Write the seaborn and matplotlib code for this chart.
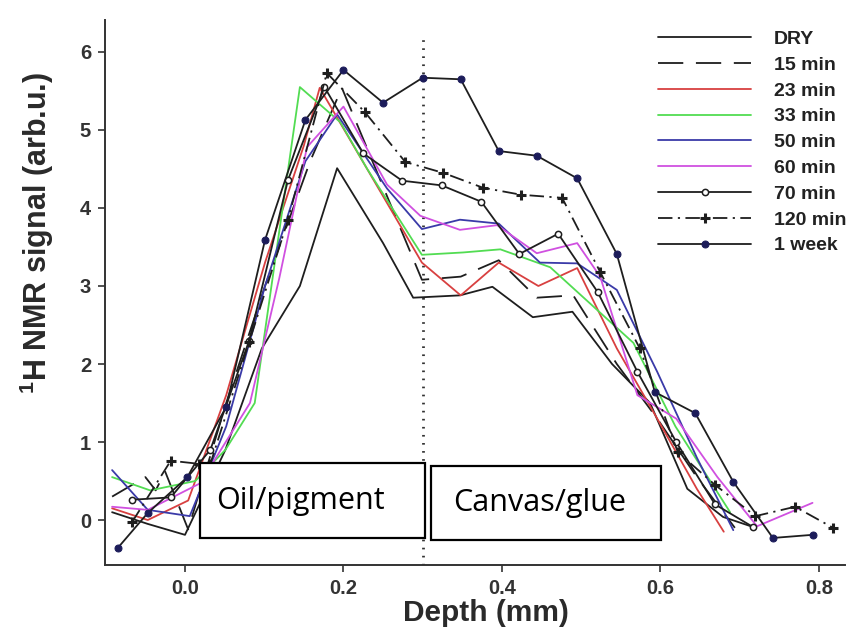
import matplotlib
matplotlib.use("Agg")
import matplotlib.pyplot as plt
import seaborn as sns
import numpy as np
import pandas as pd
from matplotlib.patches import Rectangle

# ---------------- data ----------------
dry_x = [-0.092, -0.047, 0.0, 0.051, 0.097, 0.145, 0.192, 0.25, 0.288, 0.347, 0.388,
         0.439, 0.489, 0.539, 0.587, 0.634, 0.679, 0.72]
dry_y = [0.1, -0.05, -0.19, 0.9, 2.2, 3.0, 4.51, 3.55, 2.85, 2.88, 2.99,
         2.6, 2.67, 2.0, 1.5, 0.4, 0.04, -0.1]

m15_x = [-0.092, -0.05, -0.037, -0.025, 0.004, 0.052, 0.101, 0.158, 0.198, 0.299, 0.348,
         0.396, 0.444, 0.490, 0.545, 0.596, 0.646, 0.694]
m15_y = [0.3, 0.55, 0.38, 0.62, -0.12, 1.5, 3.0, 4.6, 5.54, 3.08, 3.12,
         3.33, 2.85, 2.88, 2.0, 1.3, 0.55, -0.1]

m23_x = [-0.092, -0.047, 0.004, 0.052, 0.101, 0.150, 0.170, 0.299, 0.348, 0.396,
         0.446, 0.495, 0.545, 0.596, 0.646, 0.68]
m23_y = [0.15, 0.0, 0.25, 1.6, 3.3, 4.8, 5.54, 3.3, 2.88, 3.3,
         3.0, 3.23, 2.2, 1.3, 0.4, -0.15]

m33_x = [-0.092, -0.044, 0.013, 0.051, 0.088, 0.145, 0.196, 0.230, 0.299, 0.351,
         0.398, 0.461, 0.566, 0.619, 0.688]
m33_y = [0.55, 0.38, 0.5, 0.9, 1.5, 5.55, 5.1, 4.5, 3.4, 3.43,
         3.47, 3.24, 2.27, 1.2, 0.1]

m50_x = [-0.092, -0.047, 0.006, 0.052, 0.101, 0.152, 0.192, 0.255, 0.299, 0.347,
         0.396, 0.448, 0.495, 0.545, 0.596, 0.646, 0.692]
m50_y = [0.64, 0.13, 0.05, 1.2, 3.0, 4.6, 5.2, 4.25, 3.73, 3.85,
         3.8, 3.3, 3.29, 2.95, 1.9, 0.8, -0.13]

m60_x = [-0.092, -0.047, 0.019, 0.082, 0.119, 0.154, 0.2, 0.255, 0.297, 0.347, 0.394,
         0.444, 0.495, 0.524, 0.571, 0.620, 0.672, 0.722, 0.792]
m60_y = [0.17, 0.13, 0.47, 1.5, 3.1, 4.78, 5.3, 4.3, 3.9, 3.72, 3.78,
         3.42, 3.55, 3.12, 1.6, 1.3, 0.55, -0.08, 0.22]

m70_x = [-0.067, -0.018, 0.032, 0.081, 0.130, 0.176, 0.225, 0.274, 0.324, 0.374,
         0.422, 0.471, 0.521, 0.571, 0.620, 0.669, 0.717]
m70_y = [0.26, 0.29, 0.9, 2.3, 4.36, 5.55, 4.7, 4.35, 4.29, 4.08,
         3.41, 3.67, 2.92, 1.9, 1.0, 0.2, -0.09]

m120_x = [-0.067, -0.018, 0.018, 0.032, 0.081, 0.130, 0.179, 0.227, 0.278, 0.326,
          0.376, 0.424, 0.476, 0.524, 0.574, 0.622, 0.669, 0.720, 0.770, 0.818]
m120_y = [-0.03, 0.76, 0.72, 0.72, 2.28, 3.85, 5.73, 5.23, 4.59, 4.45,
          4.26, 4.17, 4.13, 3.18, 2.2, 0.87, 0.45, 0.05, 0.17, -0.1]

w1_x = [-0.085, -0.047, 0.003, 0.052, 0.101, 0.152, 0.2, 0.25, 0.3, 0.348, 0.396,
        0.444, 0.495, 0.545, 0.593, 0.644, 0.692, 0.742, 0.792]
w1_y = [-0.36, 0.09, 0.55, 1.45, 3.59, 5.13, 5.77, 5.35, 5.67, 5.65, 4.73,
        4.67, 4.38, 3.41, 1.64, 1.37, 0.49, -0.23, -0.19]

labels = ["DRY", "15 min", "23 min", "33 min", "50 min", "60 min",
          "70 min", "120 min", "1 week"]
xticks = [0.0, 0.2, 0.4, 0.6, 0.8]
yticks = [0, 1, 2, 3, 4, 5, 6]
region_labels = ["Oil/pigment", "Canvas/glue"]
interface_depth = 0.3

series = {
    "DRY": (dry_x, dry_y), "15 min": (m15_x, m15_y), "23 min": (m23_x, m23_y),
    "33 min": (m33_x, m33_y), "50 min": (m50_x, m50_y), "60 min": (m60_x, m60_y),
    "70 min": (m70_x, m70_y), "120 min": (m120_x, m120_y), "1 week": (w1_x, w1_y),
}

# ---------------- styles ----------------
BLK = "#1e1e1e"
styles = {
    "DRY": dict(color=BLK, linestyle="-"),
    "15 min": dict(color=BLK, linestyle=(0, (14, 7))),
    "23 min": dict(color="#d84040", linestyle="-"),
    "33 min": dict(color="#52dc52", linestyle="-"),
    "50 min": dict(color="#3a3aa8", linestyle="-"),
    "60 min": dict(color="#d050e0", linestyle="-"),
    "70 min": dict(color=BLK, linestyle="-", marker="o", markersize=4.5,
                   markerfacecolor="white", markeredgecolor=BLK, markeredgewidth=1.1),
    "120 min": dict(color=BLK, linestyle=(0, (8, 3, 1.2, 3)), marker="+",
                    markersize=7, markeredgewidth=2.2, markeredgecolor=BLK),
    "1 week": dict(color=BLK, linestyle="-", marker="o", markersize=5,
                   markerfacecolor="#1c1c5a", markeredgecolor="#1c1c5a"),
}

sns.set_theme(style="ticks")
plt.rcParams["font.family"] = ["Liberation Sans", "DejaVu Sans"]
plt.rcParams["mathtext.fontset"] = "custom"
plt.rcParams["mathtext.bf"] = "Liberation Sans:bold"
plt.rcParams["mathtext.rm"] = "Liberation Sans"

fig = plt.figure(figsize=(8.59, 6.35), dpi=100)
ax = fig.add_axes([0.1222, 0.1102, 0.8615, 0.8583])

for name in labels:
    xs, ys = series[name]
    df = pd.DataFrame({"depth": xs, "signal": ys})
    sns.lineplot(data=df, x="depth", y="signal", ax=ax, estimator=None, sort=False,
                 linewidth=1.3, label=name, **styles[name])

ax.axvline(interface_depth, ymax=0.975, color="#333333", linewidth=2.0,
           linestyle=(0, (0.6, 2.3)), zorder=1)

ax.set_xlim(-0.101, 0.833)
ax.set_ylim(-0.577, 6.41)
ax.set_xticks(xticks)
ax.set_xticklabels([f"{t:.1f}" for t in xticks])
ax.set_yticks(yticks)
ax.set_yticklabels([str(t) for t in yticks])
ax.tick_params(axis="both", direction="out", length=5, width=1.2, color="#333333",
               labelsize=14.5, labelcolor="#333333", pad=5)
for lab in ax.get_xticklabels() + ax.get_yticklabels():
    lab.set_fontweight("bold")

sns.despine(ax=ax)
for sp in ("left", "bottom"):
    ax.spines[sp].set_linewidth(1.4)
    ax.spines[sp].set_color("#333333")

ax.set_xlabel("Depth (mm)", fontsize=21.5, fontweight="bold", color="#2a2a2a")
ax.set_ylabel(r"$^{\mathbf{1}}$H NMR signal (arb.u.)", fontsize=22, fontweight="bold",
              color="#2a2a2a")
ax.xaxis.set_label_coords(0.515, -0.062)
ax.yaxis.set_label_coords(-0.066, 0.61)

# region boxes
boxes = [((0.019, -0.231), 0.284, 0.962, (0.146, 0.25)),
         ((0.310, -0.256), 0.291, 0.948, (0.448, 0.218))]
for (xy, w, h, tpos), txt in zip(boxes, region_labels):
    ax.add_patch(Rectangle(xy, w, h, facecolor="white", edgecolor="black",
                           linewidth=1.6, zorder=5))
    ax.text(tpos[0], tpos[1], txt, fontsize=22, family=["Open Sans", "DejaVu Sans"],
            ha="center", va="center", zorder=6, color="black")

leg = ax.legend(loc="upper left", bbox_to_anchor=(0.766, 0.952),
                bbox_transform=fig.transFigure, frameon=False,
                handlelength=4.8, handletextpad=1.15, labelspacing=0.42,
                borderpad=0, borderaxespad=0,
                prop=dict(size=14, weight="bold"))
for t in leg.get_texts():
    t.set_color("#222222")

fig.savefig("out.png", dpi=100)
